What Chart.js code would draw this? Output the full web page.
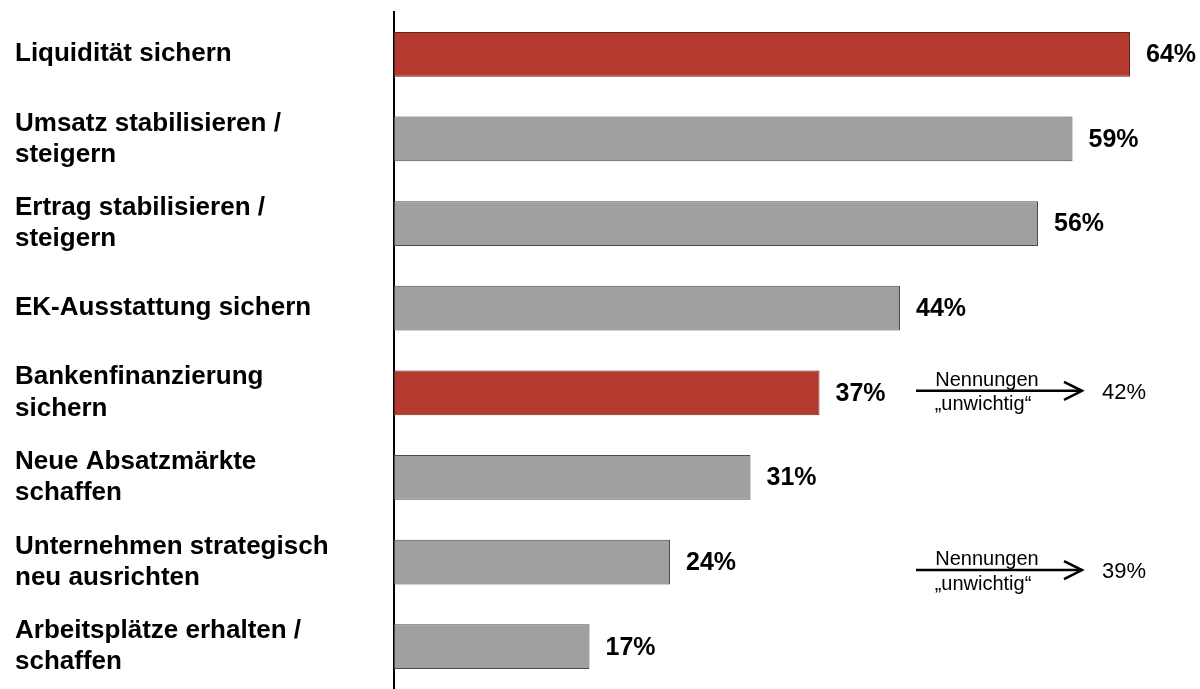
<!DOCTYPE html>
<html>
<head>
<meta charset="utf-8">
<script src="https://cdn.jsdelivr.net/npm/chart.js@4/dist/chart.umd.min.js"></script>
<style>
  html, body { margin: 0; padding: 0; background: #fff; overflow: hidden; }
  #wrap { width: 1200px; height: 689px; }
</style>
</head>
<body>
<div id="wrap"><canvas id="zieleChart"></canvas></div>
<script>
// Ziele - Anteil der Nennungen
let ziele = [
    ['Liquidität sichern'],
    ['Umsatz stabilisieren /', 'steigern'],
    ['Ertrag stabilisieren /', 'steigern'],
    ['EK-Ausstattung sichern'],
    ['Bankenfinanzierung', 'sichern'],
    ['Neue Absatzmärkte', 'schaffen'],
    ['Unternehmen strategisch', 'neu ausrichten'],
    ['Arbeitsplätze erhalten /', 'schaffen']
]
let anteile = [64, 59, 56, 44, 37, 31, 24, 17]
let hervorgehoben = [0, 4]

// Nennungen "unwichtig" fuer einzelne Zeilen
let unwichtigZeilen = [4, 6]
let unwichtigWerte = [42, 39]

const FONT = '"Liberation Sans", Arial, sans-serif'
const ROT = '#b43a2f'
const GRAU = '#a0a0a0'

//bar colours
const fillColors = anteile.map((v, i) => hervorgehoben.includes(i) ? ROT : GRAU)
const edgeColors = anteile.map((v, i) => hervorgehoben.includes(i) ? '#6b211b' : '#4a4a4a')

//percent labels at the bar ends
const valueLabels = {
    id: 'valueLabels',
    afterDatasetsDraw(chart) {
        const ctx = chart.ctx
        const meta = chart.getDatasetMeta(0)
        ctx.save()
        ctx.font = 'bold 25px ' + FONT
        ctx.fillStyle = '#000'
        ctx.textAlign = 'left'
        ctx.textBaseline = 'middle'
        meta.data.forEach((bar, i) => {
            ctx.fillText(anteile[i] + '%', bar.x + 16, bar.y + 1)
        })
        ctx.restore()
    }
}

//arrow notes "Nennungen unwichtig"
const unwichtigNotes = {
    id: 'unwichtigNotes',
    afterDatasetsDraw(chart, args, opts) {
        const ctx = chart.ctx
        const yScale = chart.scales.y
        const x0 = chart.chartArea.left + 522
        const x1 = x0 + 166
        ctx.save()
        unwichtigZeilen.forEach((row, k) => {
            const y = yScale.getPixelForValue(row) + opts.shift[k]

            ctx.strokeStyle = '#000'
            ctx.lineWidth = 2.5
            ctx.beginPath()
            ctx.moveTo(x0, y)
            ctx.lineTo(x1, y)
            ctx.stroke()
            ctx.beginPath()
            ctx.moveTo(x1 - 18, y - 9)
            ctx.lineTo(x1, y)
            ctx.lineTo(x1 - 18, y + 9)
            ctx.stroke()

            ctx.fillStyle = '#000'
            ctx.textAlign = 'center'
            ctx.font = '20px ' + FONT
            ctx.textBaseline = 'alphabetic'
            ctx.fillText('Nennungen', x0 + 71, y - 5)
            ctx.textBaseline = 'top'
            ctx.fillText('\u201Eunwichtig\u201C', x0 + 67, y + 4)

            ctx.textAlign = 'left'
            ctx.textBaseline = 'middle'
            ctx.font = '22px ' + FONT
            ctx.fillText(unwichtigWerte[k] + '%', x1 + 20, y + 2)
        })
        ctx.restore()
    }
}

const zieleGraph = () => {
    const ctx = document.getElementById('zieleChart').getContext('2d')
    const myChart = new Chart(ctx, {
        type: 'bar',
        data: {
            labels: ziele,
            datasets: [{
                data: anteile,
                backgroundColor: fillColors,
                borderColor: edgeColors,
                borderWidth: 1,
                borderSkipped: false,
                barPercentage: 0.53,
                categoryPercentage: 1
            }]
        },
        plugins: [valueLabels, unwichtigNotes],
        options: {
            indexAxis: 'y',
            responsive: true,
            maintainAspectRatio: false,
            animation: false,
            layout: {
                padding: { left: 15, top: 12, right: 1, bottom: 0 }
            },
            plugins: {
                legend: { display: false },
                tooltip: { enabled: false },
                unwichtigNotes: { shift: [-2, 8] }
            },
            scales: {
                x: {
                    display: false,
                    min: 0,
                    max: 70
                },
                y: {
                    afterFit(scale) {
                        // fixed label column, no extra room for overflowing labels
                        scale.width = 379
                        scale.paddingTop = 0
                        scale.paddingBottom = 0
                    },
                    grid: { display: true, color: 'rgba(0,0,0,0)', drawTicks: false },
                    border: { display: true, color: '#000', width: 2 },
                    ticks: {
                        crossAlign: 'far',
                        color: '#000',
                        padding: 0,
                        font: { family: FONT, size: 26, weight: 'bold', lineHeight: 1.2 }
                    }
                }
            }
        }
    })
}

zieleGraph()
</script>
</body>
</html>
